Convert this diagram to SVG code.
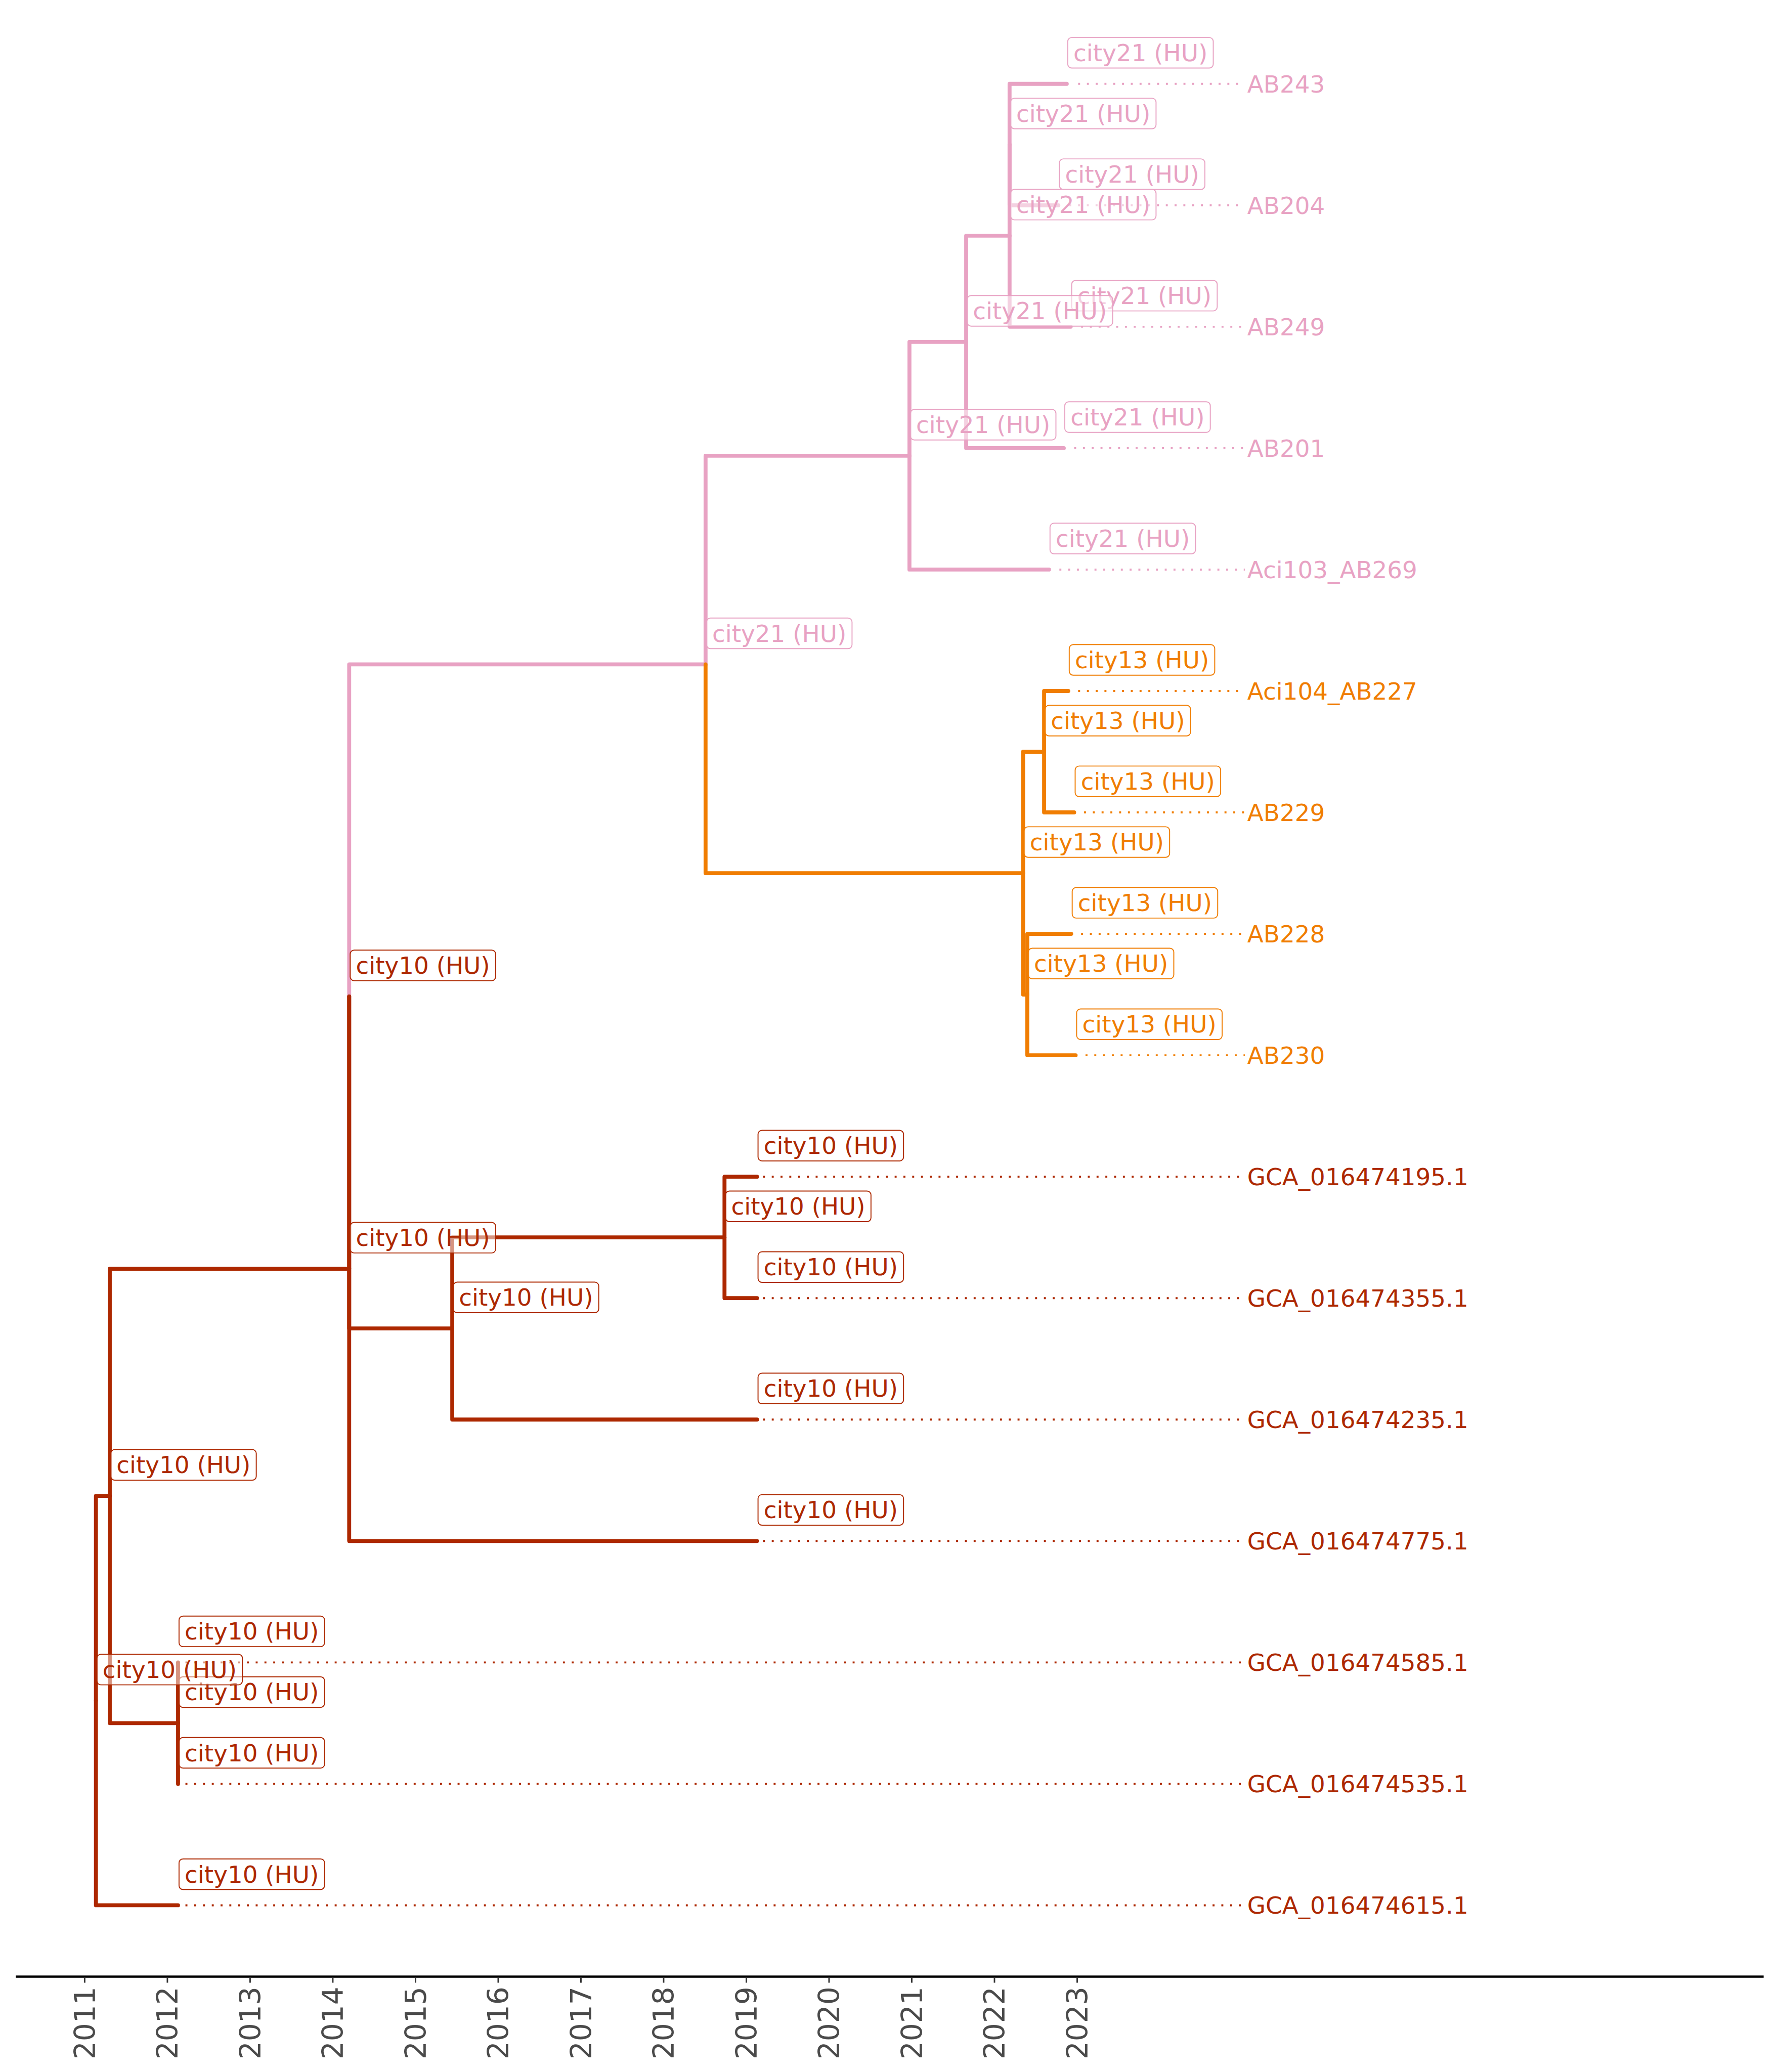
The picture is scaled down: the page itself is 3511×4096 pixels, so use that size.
<svg xmlns="http://www.w3.org/2000/svg" width="3511" height="4096" viewBox="0 0 3511 4096">
<style>
.br{fill:none;stroke-width:8;stroke-linecap:round;stroke-linejoin:round}
.dot{fill:none;stroke-width:4;stroke-dasharray:4 13.8}
.pk{stroke:#e8a2c3}
.or{stroke:#f07d02}
.rd{stroke:#ad2800}
.lb rect{fill:#ffffff;fill-opacity:0.5;stroke-width:2}
.lb text{font-family:"DejaVu Sans",sans-serif;font-size:48px}
.tip{font-family:"DejaVu Sans",sans-serif;font-size:48px}
.tk{font-family:"DejaVu Sans",sans-serif;font-size:58px;fill:#4a4a4a}
.p rect{stroke:#e8a2c3}.p text,.tp{fill:#e8a2c3}
.o rect{stroke:#f07d02}.o text,.to{fill:#f07d02}
.r rect{stroke:#ad2800}.r text,.tr{fill:#ad2800}
</style>
<rect width="3511" height="4096" fill="#ffffff"/>
<g transform="scale(0.975)">
<g id="connectors">
<path class="br pk" d="M708 2020.35V1347.15H1430.6"/>
<path class="br pk" d="M1430.6 1347.15V924H1844"/>
<path class="br pk" d="M1844 924V693.2H1959"/>
<path class="br pk" d="M1844 924V1154.8H2127"/>
<path class="br pk" d="M1959 693.2V477.75H2047"/>
<path class="br pk" d="M1959 693.2V908.6H2157"/>
<path class="br pk" d="M2047 477.75V293.1"/>
<path class="br pk" d="M2047 477.75V662.4H2171"/>
<path class="br pk" d="M2047 293.1V170H2163"/>
<path class="br pk" d="M2047 293.1V416.2H2146"/>
<path class="br or" d="M1430.6 1347.15V1770.3H2074.5"/>
<path class="br or" d="M2074.5 1770.3V1524.1H2117"/>
<path class="br or" d="M2074.5 1770.3V2016.5H2083"/>
<path class="br or" d="M2117 1524.1V1401H2166"/>
<path class="br or" d="M2117 1524.1V1647.2H2178"/>
<path class="br or" d="M2083 2016.5V1893.4H2172"/>
<path class="br or" d="M2083 2016.5V2139.6H2181"/>
<path class="br rd" d="M194.5 3448V3033.05H222.6"/>
<path class="br rd" d="M194.5 3448V3863H361"/>
<path class="br rd" d="M222.6 3033.05V3493.7H361"/>
<path class="br rd" d="M361 3493.7V3370.6"/>
<path class="br rd" d="M361 3493.7V3616.8"/>
<path class="br rd" d="M222.6 3033.05V2572.4H708"/>
<path class="br rd" d="M708 2572.4V2020.35"/>
<path class="br rd" d="M708 2572.4V3124.4H1535"/>
<path class="br rd" d="M708 2020.35V2693.55H917"/>
<path class="br rd" d="M917 2693.55V2508.9H1469"/>
<path class="br rd" d="M917 2693.55V2878.2H1535"/>
<path class="br rd" d="M1469 2508.9V2385.8H1535"/>
<path class="br rd" d="M1469 2508.9V2632H1535"/>
<path class="dot pk" d="M2186 170H2524"/>
<path class="dot pk" d="M2168 416.2H2524"/>
<path class="dot pk" d="M2192 662.4H2524"/>
<path class="dot pk" d="M2178 908.6H2524"/>
<path class="dot pk" d="M2148 1154.8H2524"/>
<path class="dot or" d="M2186 1401H2524"/>
<path class="dot or" d="M2198 1647.2H2524"/>
<path class="dot or" d="M2192 1893.4H2524"/>
<path class="dot or" d="M2201 2139.6H2524"/>
<path class="dot rd" d="M1547 2385.8H2524"/>
<path class="dot rd" d="M1547 2632H2524"/>
<path class="dot rd" d="M1547 2878.2H2524"/>
<path class="dot rd" d="M1547 3124.4H2524"/>
<path class="dot rd" d="M376 3370.6H2524"/>
<path class="dot rd" d="M376 3616.8H2524"/>
<path class="dot rd" d="M376 3863H2524"/>
</g>
<g id="tips">
<text class="tip tp" x="2529" y="187.5">AB243</text>
<text class="tip tp" x="2529" y="433.7">AB204</text>
<text class="tip tp" x="2529" y="679.9">AB249</text>
<text class="tip tp" x="2529" y="926.1">AB201</text>
<text class="tip tp" x="2529" y="1172.3">Aci103_AB269</text>
<text class="tip to" x="2529" y="1418.5">Aci104_AB227</text>
<text class="tip to" x="2529" y="1664.7">AB229</text>
<text class="tip to" x="2529" y="1910.9">AB228</text>
<text class="tip to" x="2529" y="2157.1">AB230</text>
<text class="tip tr" x="2529" y="2403.3">GCA_016474195.1</text>
<text class="tip tr" x="2529" y="2649.5">GCA_016474355.1</text>
<text class="tip tr" x="2529" y="2895.7">GCA_016474235.1</text>
<text class="tip tr" x="2529" y="3141.9">GCA_016474775.1</text>
<text class="tip tr" x="2529" y="3388.1">GCA_016474585.1</text>
<text class="tip tr" x="2529" y="3634.3">GCA_016474535.1</text>
<text class="tip tr" x="2529" y="3880.5">GCA_016474615.1</text>
</g>
<g id="leaf-labels">
<g id="lab-AB243" class="lb p"><rect x="2165" y="76" width="295" height="62" rx="8"/><text x="2176.5" y="124">city21 (HU)</text></g>
<g id="lab-AB204" class="lb p"><rect x="2148" y="322.2" width="295" height="62" rx="8"/><text x="2159.5" y="370.2">city21 (HU)</text></g>
<g id="lab-AB249" class="lb p"><rect x="2173" y="568.4" width="295" height="62" rx="8"/><text x="2184.5" y="616.4">city21 (HU)</text></g>
<g id="lab-AB201" class="lb p"><rect x="2159" y="814.6" width="295" height="62" rx="8"/><text x="2170.5" y="862.6">city21 (HU)</text></g>
<g id="lab-Aci103" class="lb p"><rect x="2129" y="1060.8" width="295" height="62" rx="8"/><text x="2140.5" y="1108.8">city21 (HU)</text></g>
<g id="lab-Aci104" class="lb o"><rect x="2168" y="1307" width="295" height="62" rx="8"/><text x="2179.5" y="1355">city13 (HU)</text></g>
<g id="lab-AB229" class="lb o"><rect x="2180" y="1553.2" width="295" height="62" rx="8"/><text x="2191.5" y="1601.2">city13 (HU)</text></g>
<g id="lab-AB228" class="lb o"><rect x="2174" y="1799.4" width="295" height="62" rx="8"/><text x="2185.5" y="1847.4">city13 (HU)</text></g>
<g id="lab-AB230" class="lb o"><rect x="2183" y="2045.6" width="295" height="62" rx="8"/><text x="2194.5" y="2093.6">city13 (HU)</text></g>
<g id="lab-GCA195" class="lb r"><rect x="1537" y="2291.8" width="295" height="62" rx="8"/><text x="1548.5" y="2339.8">city10 (HU)</text></g>
<g id="lab-GCA355" class="lb r"><rect x="1537" y="2538" width="295" height="62" rx="8"/><text x="1548.5" y="2586">city10 (HU)</text></g>
<g id="lab-GCA235" class="lb r"><rect x="1537" y="2784.2" width="295" height="62" rx="8"/><text x="1548.5" y="2832.2">city10 (HU)</text></g>
<g id="lab-GCA775" class="lb r"><rect x="1537" y="3030.4" width="295" height="62" rx="8"/><text x="1548.5" y="3078.4">city10 (HU)</text></g>
<g id="lab-GCA585" class="lb r"><rect x="363" y="3276.6" width="295" height="62" rx="8"/><text x="374.5" y="3324.6">city10 (HU)</text></g>
<g id="lab-GCA535" class="lb r"><rect x="363" y="3522.8" width="295" height="62" rx="8"/><text x="374.5" y="3570.8">city10 (HU)</text></g>
<g id="lab-GCA615" class="lb r"><rect x="363" y="3769" width="295" height="62" rx="8"/><text x="374.5" y="3817">city10 (HU)</text></g>
</g>
<g id="node-labels">
<g id="lab-D" class="lb p"><rect x="2049" y="199.1" width="295" height="62" rx="8"/><text x="2060.5" y="247.1">city21 (HU)</text></g>
<g id="lab-C" class="lb p"><rect x="2049" y="383.75" width="295" height="62" rx="8"/><text x="2060.5" y="431.75">city21 (HU)</text></g>
<g id="lab-E" class="lb p"><rect x="1961" y="599.2" width="295" height="62" rx="8"/><text x="1972.5" y="647.2">city21 (HU)</text></g>
<g id="lab-F" class="lb p"><rect x="1846" y="830" width="295" height="62" rx="8"/><text x="1857.5" y="878">city21 (HU)</text></g>
<g id="lab-G" class="lb p"><rect x="1432.6" y="1253.15" width="295" height="62" rx="8"/><text x="1444.1" y="1301.15">city21 (HU)</text></g>
<g id="lab-I" class="lb o"><rect x="2119" y="1430.1" width="295" height="62" rx="8"/><text x="2130.5" y="1478.1">city13 (HU)</text></g>
<g id="lab-H" class="lb o"><rect x="2076.5" y="1676.3" width="295" height="62" rx="8"/><text x="2088" y="1724.3">city13 (HU)</text></g>
<g id="lab-J" class="lb o"><rect x="2085" y="1922.5" width="295" height="62" rx="8"/><text x="2096.5" y="1970.5">city13 (HU)</text></g>
<g id="lab-B" class="lb r"><rect x="710" y="1926.35" width="295" height="62" rx="8"/><text x="721.5" y="1974.35">city10 (HU)</text></g>
<g id="lab-L" class="lb r"><rect x="1471" y="2414.9" width="295" height="62" rx="8"/><text x="1482.5" y="2462.9">city10 (HU)</text></g>
<g id="lab-A" class="lb r"><rect x="710" y="2478.4" width="295" height="62" rx="8"/><text x="721.5" y="2526.4">city10 (HU)</text></g>
<g id="lab-K" class="lb r"><rect x="919" y="2599.55" width="295" height="62" rx="8"/><text x="930.5" y="2647.55">city10 (HU)</text></g>
<g id="lab-M" class="lb r"><rect x="224.6" y="2939.05" width="295" height="62" rx="8"/><text x="236.1" y="2987.05">city10 (HU)</text></g>
<g id="lab-N" class="lb r"><rect x="363" y="3399.7" width="295" height="62" rx="8"/><text x="374.5" y="3447.7">city10 (HU)</text></g>
<g id="lab-R" class="lb r"><rect x="196.5" y="3354" width="295" height="62" rx="8"/><text x="208" y="3402">city10 (HU)</text></g>
</g>
<g id="axis">
<line x1="32" y1="4007.7" x2="3576" y2="4007.7" stroke="#000000" stroke-width="4.5"/>
<g stroke="#333333" stroke-width="3">
<line x1="171.7" y1="4010" x2="171.7" y2="4020"/>
<line x1="339.4" y1="4010" x2="339.4" y2="4020"/>
<line x1="507.1" y1="4010" x2="507.1" y2="4020"/>
<line x1="674.8" y1="4010" x2="674.8" y2="4020"/>
<line x1="842.5" y1="4010" x2="842.5" y2="4020"/>
<line x1="1010.2" y1="4010" x2="1010.2" y2="4020"/>
<line x1="1177.9" y1="4010" x2="1177.9" y2="4020"/>
<line x1="1345.6" y1="4010" x2="1345.6" y2="4020"/>
<line x1="1513.3" y1="4010" x2="1513.3" y2="4020"/>
<line x1="1681" y1="4010" x2="1681" y2="4020"/>
<line x1="1848.7" y1="4010" x2="1848.7" y2="4020"/>
<line x1="2016.4" y1="4010" x2="2016.4" y2="4020"/>
<line x1="2184.1" y1="4010" x2="2184.1" y2="4020"/>
</g>
<text class="tk" text-anchor="end" transform="translate(192.7,4028) rotate(-90)">2011</text>
<text class="tk" text-anchor="end" transform="translate(360.4,4028) rotate(-90)">2012</text>
<text class="tk" text-anchor="end" transform="translate(528.1,4028) rotate(-90)">2013</text>
<text class="tk" text-anchor="end" transform="translate(695.8,4028) rotate(-90)">2014</text>
<text class="tk" text-anchor="end" transform="translate(863.5,4028) rotate(-90)">2015</text>
<text class="tk" text-anchor="end" transform="translate(1031.2,4028) rotate(-90)">2016</text>
<text class="tk" text-anchor="end" transform="translate(1198.9,4028) rotate(-90)">2017</text>
<text class="tk" text-anchor="end" transform="translate(1366.6,4028) rotate(-90)">2018</text>
<text class="tk" text-anchor="end" transform="translate(1534.3,4028) rotate(-90)">2019</text>
<text class="tk" text-anchor="end" transform="translate(1702,4028) rotate(-90)">2020</text>
<text class="tk" text-anchor="end" transform="translate(1869.7,4028) rotate(-90)">2021</text>
<text class="tk" text-anchor="end" transform="translate(2037.4,4028) rotate(-90)">2022</text>
<text class="tk" text-anchor="end" transform="translate(2205.1,4028) rotate(-90)">2023</text>
</g>
</g>
</svg>
